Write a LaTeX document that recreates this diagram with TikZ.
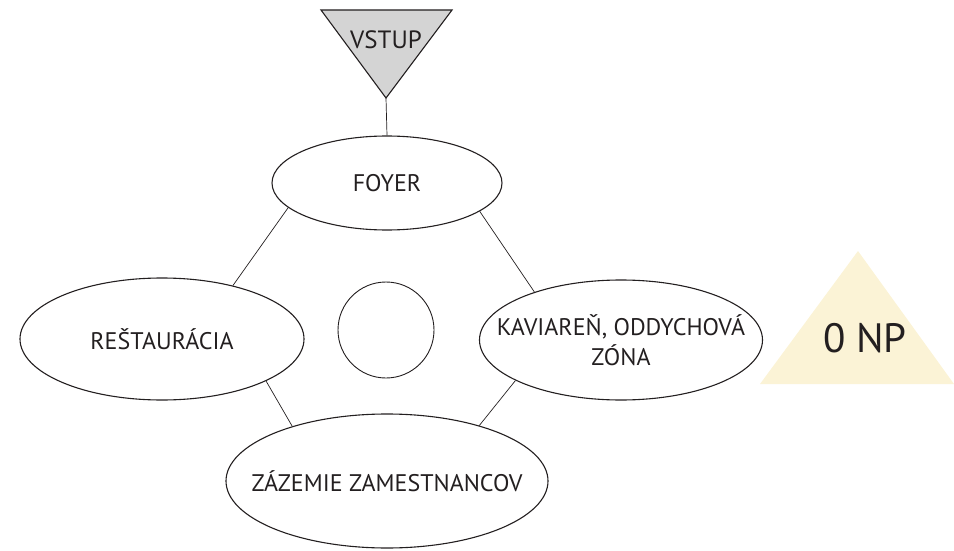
\documentclass[tikz,border=0pt]{standalone}
\usepackage{fontspec}
\setmainfont{PT Sans}
\usetikzlibrary{shapes.geometric}
\definecolor{txt}{HTML}{231F20}
\definecolor{vstupfill}{HTML}{D4D4D4}
\definecolor{npfill}{HTML}{FBF3D6}
\tikzset{
  room/.style={ellipse, draw=txt, line width=1.1pt, inner sep=0pt},
  roomtext/.style={text=txt, align=center, font=\fontsize{24}{30}\selectfont},
  link/.style={draw=txt, line width=0.7pt},
}
\begin{document}
\begin{tikzpicture}[x=1pt,y=-1pt]
\useasboundingbox (0,0) rectangle (954,551);
% entrance triangle
\draw[fill=vstupfill, draw=txt, line width=1.1pt] (321,10) -- (452,10) -- (386,98) -- cycle;
\coordinate (vtip) at (386,98);
\node[text=txt, font=\fontsize{25}{30}\selectfont] (vstup) at (386,40) {VSTUP};
% rooms
\node[room, minimum width=230pt, minimum height=94pt,
  label={[roomtext]center:FOYER}] (foyer) at (387,183) {};
\node[room, minimum width=284pt, minimum height=122pt,
  label={[roomtext]center:REŠTAURÁCIA}] (rest) at (162,339) {};
\node[room, minimum width=283pt, minimum height=120pt,
  label={[roomtext]center:{KAVIAREŇ, ODDYCHOVÁ\\ZÓNA}}] (kav) at (621,340) {};
\node[room, minimum width=322pt, minimum height=134pt,
  label={[roomtext]center:ZÁZEMIE ZAMESTNANCOV}] (zaz) at (387,481) {};
\node[circle, draw=txt, line width=0.9pt, minimum size=96pt, inner sep=0pt] (mid) at (386,330) {};
% level marker
\fill[npfill] (858,251) -- (954,384) -- (760,384) -- cycle;
\node[text=txt, font=\fontsize{41}{46}\selectfont] (np) at (865,338) {0 NP};
% connectors
\draw[link] (vtip) -- (foyer.north);
\draw[link] (foyer.194) -- (rest.37);
\draw[link] (foyer.343) -- (kav.151);
\draw[link] (rest.338) -- (zaz.150);
\draw[link] (kav.201) -- (zaz.31);
\end{tikzpicture}
\end{document}
